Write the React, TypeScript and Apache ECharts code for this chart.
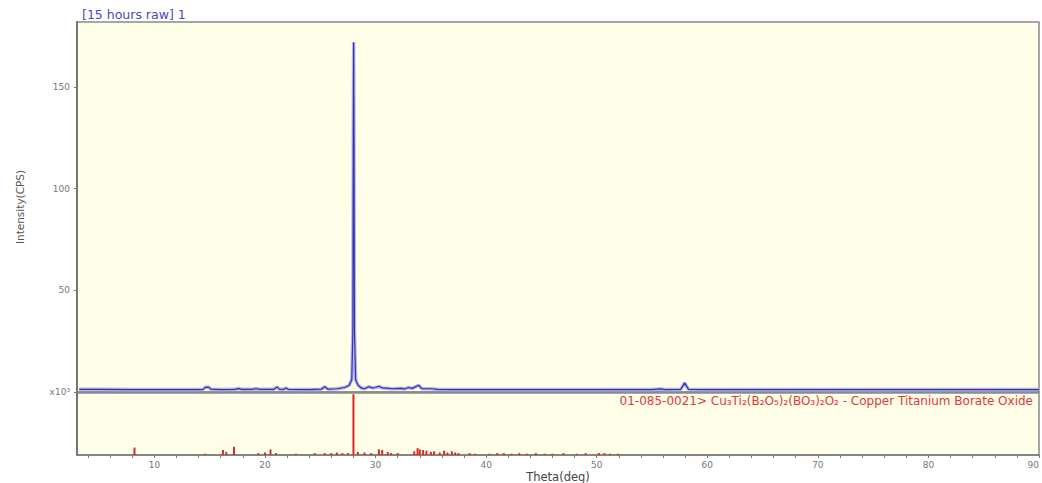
import React, { useEffect, useRef } from "react";
import * as echarts from "echarts";

// measured pattern (theta in deg, intensity in x10^3 CPS)
const patternTheta = [3.2, 5, 8, 10, 12, 14, 14.4, 14.6, 14.9, 15.1, 16, 17.3, 17.6, 17.9, 18.8, 19.2, 19.6, 20.8, 21.1, 21.3, 21.7, 21.9, 22.1, 24, 25.1, 25.4, 25.7, 26.5, 27.2, 27.6, 27.85, 27.95, 27.99, 28.02, 28.05, 28.09, 28.2, 28.4, 28.7, 29.0, 29.4, 29.7, 30.0, 30.3, 30.6, 31.0, 31.5, 32.3, 32.6, 33.0, 33.3, 33.9, 34.2, 35.0, 35.6, 37, 40, 45, 50, 55, 55.8, 56.1, 57.6, 57.95, 58.3, 60, 70, 80, 90];
const patternIntensity = [1.3, 1.3, 1.2, 1.2, 1.2, 1.2, 1.3, 2.3, 2.4, 1.4, 1.2, 1.3, 1.7, 1.3, 1.3, 1.6, 1.3, 1.3, 2.4, 1.4, 1.3, 2.0, 1.3, 1.2, 1.4, 2.6, 1.4, 1.6, 2.2, 3.2, 6, 30, 127, 172, 127, 30, 6, 3.5, 2.0, 1.6, 2.6, 2.0, 2.2, 2.8, 2.0, 1.9, 1.6, 1.8, 1.5, 2.2, 1.8, 3.3, 1.6, 1.6, 1.3, 1.2, 1.2, 1.2, 1.2, 1.2, 1.5, 1.2, 1.3, 4.5, 1.3, 1.2, 1.2, 1.2, 1.2];

// reference card sticks (theta, relative intensity %)
const stickTheta = [8.2, 14.6, 16.2, 16.5, 17.2, 19.4, 20.0, 20.5, 21.0, 22.8, 24.5, 25.4, 26.0, 26.5, 27.0, 27.5, 28.0, 28.4, 29.0, 29.6, 30.3, 30.6, 31.1, 31.4, 32.0, 33.5, 33.8, 34.0, 34.3, 34.6, 35.0, 35.3, 35.8, 36.2, 36.5, 36.9, 37.2, 37.5, 38.5, 39.0, 40.3, 41.0, 41.6, 42.3, 43.0, 43.7, 44.5, 45.3, 46.0, 47.0, 48.2, 49.0, 50.2, 50.7, 51.2, 51.9];
const stickIntensity = [12, 2, 8, 5, 13, 3, 4, 9, 3, 2, 3, 3, 3, 4, 3, 3, 98, 5, 4, 3, 9, 8, 5, 3, 3, 6, 11, 9, 8, 7, 5, 6, 4, 7, 4, 6, 4, 3, 3, 2, 2, 3, 3, 2, 3, 2, 3, 2, 2, 3, 2, 3, 3, 3, 2, 2];

const xTickValues = [4, 6, 8, 10, 12, 14, 16, 18, 20, 22, 24, 26, 28, 30, 32, 34, 36, 38, 40, 42, 44, 46, 48, 50, 52, 54, 56, 58, 60, 62, 64, 66, 68, 70, 72, 74, 76, 78, 80, 82, 84, 86, 88, 90];
const xLabelValues = [10, 20, 30, 40, 50, 60, 70, 80, 90];
const yTickValues = [0, 50, 100, 150];
const yTickLabels = ["x10³", "50", "100", "150"];

const titleText = "[15 hours raw] 1";
const cardText = "01-085-0021> Cu₃Ti₂(B₂O₅)₂(BO₃)₂O₂ - Copper Titanium Borate Oxide";

export default function App() {
  const ref = useRef<HTMLDivElement>(null);
  useEffect(() => {
    document.body.style.margin = "0";
    const chart = echarts.init(ref.current!, undefined, { renderer: "svg" });
    const pattern = patternTheta.map((t, i) => [t, patternIntensity[i]]);
    const sticks = stickTheta.map((t, i) => [t, stickIntensity[i]]);
    const font = "DejaVu Sans";
    chart.setOption({
      animation: false,
      textStyle: { fontFamily: font },
      grid: [
        { left: 77, right: 3, top: 22, bottom: 91, show: true, outerBoundsMode: "none", containLabel: false, backgroundColor: "#fefee9", borderColor: "#8a8a8a", borderWidth: 1.5 },
        { left: 77, right: 3, top: 393, bottom: 28, show: true, outerBoundsMode: "none", containLabel: false, backgroundColor: "#fefee9", borderColor: "#8a8a8a", borderWidth: 1.5 },
      ],
      xAxis: [
        {
          gridIndex: 0, type: "value", min: 3, max: 90,
          axisLine: { show: true, lineStyle: { color: "#8a8a8a", width: 1.5 } },
          axisTick: { show: false }, axisLabel: { show: false }, splitLine: { show: false },
        },
        {
          gridIndex: 1, type: "value", min: 3, max: 90,
          name: "Theta(deg)", nameLocation: "middle", nameGap: 16,
          nameTextStyle: { color: "#444", fontSize: 11.5, fontFamily: font },
          axisLine: { show: true, lineStyle: { color: "#7a7a7a", width: 1.5 } },
          axisTick: { show: true, customValues: xTickValues, length: 3, lineStyle: { color: "#777" } },
          axisLabel: { customValues: xLabelValues, color: "#777", fontSize: 9, margin: 5, alignMaxLabel: "right" },
          splitLine: { show: false },
        },
      ],
      yAxis: [
        {
          gridIndex: 0, type: "value", min: 0, max: 182,
          name: "Intensity(CPS)", nameLocation: "middle", nameGap: 52,
          nameTextStyle: { color: "#555", fontSize: 10.5, fontFamily: font },
          axisLine: { show: true, lineStyle: { color: "#777", width: 2 } },
          axisTick: { show: true, customValues: yTickValues, length: 3, lineStyle: { color: "#777" } },
          axisLabel: {
            customValues: yTickValues, color: "#777", fontSize: 9, margin: 7,
            formatter: (v: number) => yTickLabels[yTickValues.indexOf(v)] ?? "",
          },
          splitLine: { show: false },
        },
        {
          gridIndex: 1, type: "value", min: 0, max: 100,
          axisLine: { show: true, lineStyle: { color: "#777", width: 2 } },
          axisTick: { show: false }, axisLabel: { show: false }, splitLine: { show: false },
        },
      ],
      graphic: [
        { type: "text", left: 82, top: 8, style: { text: titleText, fill: "#4848c8", font: `12.5px ${font}` } },
        { type: "text", right: 9, top: 395, style: { text: cardText, fill: "#e03a3a", font: `12px ${font}` } },
      ],
      series: [
        {
          type: "line", xAxisIndex: 0, yAxisIndex: 0, data: pattern, showSymbol: false,
          lineStyle: { color: "#b4b4ea", width: 3.5 }, silent: true, z: 2,
        },
        {
          type: "line", xAxisIndex: 0, yAxisIndex: 0, data: pattern, showSymbol: false,
          lineStyle: { color: "#3434b0", width: 1.2 }, silent: true, z: 3,
        },
        {
          type: "bar", xAxisIndex: 1, yAxisIndex: 1, data: sticks, barWidth: 2,
          itemStyle: { color: "#dd2626" }, silent: true,
        },
      ],
    });
    return () => chart.dispose();
  }, []);
  return <div ref={ref} style={{ width: 1042, height: 483 }} />;
}
